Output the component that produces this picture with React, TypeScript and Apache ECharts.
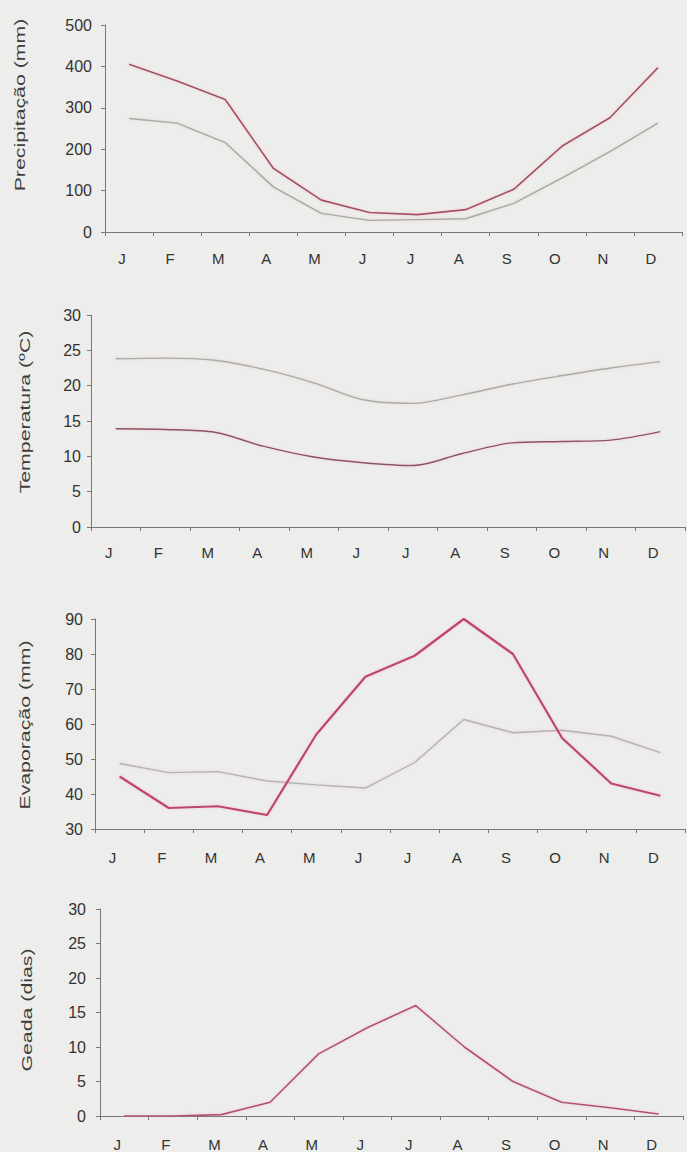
import React, { useEffect, useRef } from "react";
import * as echarts from "echarts";

// Monthly climate normals
const months = ["J", "F", "M", "A", "M", "J", "J", "A", "S", "O", "N", "D"];

const precipMax = [405, 365, 320, 154, 77, 47, 42, 54, 103, 207, 276, 397];
const precipMean = [274, 263, 216, 109, 45, 28, 30, 32, 69, 130, 194, 263];

const tempMax = [23.8, 23.9, 23.6, 22.3, 20.4, 18.0, 17.5, 18.7, 20.2, 21.4, 22.5, 23.4];
const tempMin = [13.9, 13.8, 13.4, 11.4, 9.9, 9.1, 8.7, 10.4, 11.9, 12.1, 12.3, 13.5];

const evapA = [45, 36, 36.5, 34, 57, 73.5, 79.5, 90, 80, 56, 43, 39.5];
const evapB = [48.7, 46.1, 46.4, 43.7, 42.6, 41.7, 49, 61.3, 57.5, 58.2, 56.5, 51.8];

const frostDays = [0, 0, 0.2, 2, 9, 12.8, 16, 10, 5, 2, 1.2, 0.3];

const FONT = "'Liberation Sans', Arial, sans-serif";
const TEXT = "#333333";
const AXIS = "#777777";

const grids = [
  { left: 105, top: 25, width: 577, height: 207 },
  { left: 91, top: 315, width: 594, height: 212 },
  { left: 95, top: 619, width: 590, height: 210 },
  { left: 100, top: 909, width: 583, height: 208 },
];

const xMargins = [19, 18, 21, 21];

const yAxes = [
  { min: 0, max: 500, interval: 100, margin: 13 },
  { min: 0, max: 30, interval: 5, margin: 10 },
  { min: 30, max: 90, interval: 10, margin: 12 },
  { min: 0, max: 30, interval: 5, margin: 14 },
];

const titles = [
  { text: "Precipitação (mm)", x: 20, y: 105 },
  { text: "Temperatura (ºC)", x: 25, y: 412 },
  { text: "Evaporação (mm)", x: 25, y: 725 },
  { text: "Geada (dias)", x: 27, y: 1010 },
];

function line(data: number[], gridIndex: number, color: string, width: number, smooth: number | boolean = false) {
  return {
    type: "line",
    xAxisIndex: gridIndex,
    yAxisIndex: gridIndex,
    data,
    smooth,
    showSymbol: false,
    symbol: "none",
    lineStyle: {
      color,
      width,
      shadowColor: "rgba(230,150,175,0.35)",
      shadowBlur: 3,
    },
  };
}

export default function App() {
  const ref = useRef<HTMLDivElement>(null);

  useEffect(() => {
    if (!ref.current) return;
    const chart = echarts.init(ref.current, undefined, { renderer: "svg" });

    const option = {
      animation: false,
      backgroundColor: "#ededeb",
      grid: grids.map((g) => ({ ...g, containLabel: false })),
      xAxis: grids.map((_, i) => ({
        type: "category",
        gridIndex: i,
        data: months,
        boundaryGap: true,
        axisLine: { show: true, onZero: false, lineStyle: { color: AXIS, width: 1 } },
        axisTick: { show: true, length: 4, inside: false, lineStyle: { color: AXIS } },
        axisLabel: {
          color: TEXT,
          fontFamily: FONT,
          fontSize: 15,
          margin: xMargins[i],
          padding: [0, 14, 0, 0],
        },
        splitLine: { show: false },
      })),
      yAxis: yAxes.map((a, i) => ({
        type: "value",
        gridIndex: i,
        min: a.min,
        max: a.max,
        interval: a.interval,
        axisLine: { show: true, lineStyle: { color: AXIS, width: 1 } },
        axisTick: { show: true, length: 4, lineStyle: { color: AXIS } },
        axisLabel: {
          color: TEXT,
          fontFamily: FONT,
          fontSize: 16,
          margin: a.margin,
        },
        splitLine: { show: false },
      })),
      series: [
        line(precipMax, 0, "#a85068", 1.6),
        line(precipMean, 0, "#a3aba2", 1.4),
        line(tempMax, 1, "#a9aca7", 1.4, 0.3),
        line(tempMin, 1, "#8e5264", 1.4, 0.3),
        line(evapB, 2, "#b3b3b1", 1.4),
        line(evapA, 2, "#c0456c", 2.2),
        line(frostDays, 3, "#b55070", 1.6),
      ],
      graphic: titles.map((t) => ({
        type: "text",
        x: t.x,
        y: t.y,
        rotation: Math.PI / 2,
        scaleX: 1.42,
        style: {
          text: t.text,
          fill: "#3e3e3e",
          fontFamily: FONT,
          fontSize: 15,
          align: "center",
          verticalAlign: "middle",
        },
      })),
    };

    chart.setOption(option as any);
    return () => chart.dispose();
  }, []);

  return (
    <div
      ref={ref}
      style={{ position: "absolute", left: 0, top: 0, width: 687, height: 1152 }}
    />
  );
}
